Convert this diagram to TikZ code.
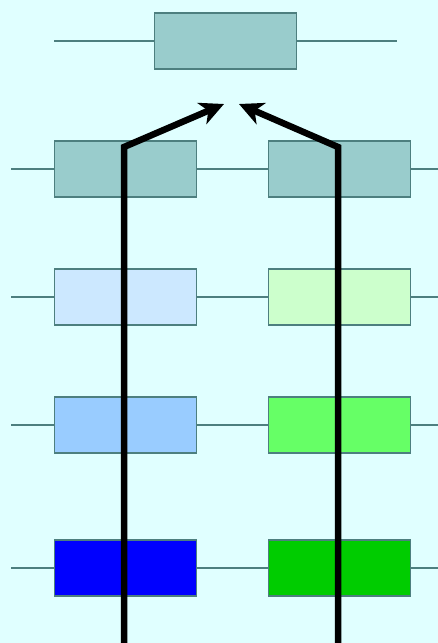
\documentclass[tikz,border=0pt]{standalone}
\usepackage{xcolor}
\usetikzlibrary{positioning, arrows.meta}

\definecolor{bg}{HTML}{E0FFFF}
\definecolor{edge}{HTML}{4D7F7F}
\definecolor{teal1}{HTML}{99CCCC}
\definecolor{paleblue}{HTML}{CCE8FF}
\definecolor{palegreen}{HTML}{CCFFCC}
\definecolor{midblue}{HTML}{99CCFF}
\definecolor{midgreen}{HTML}{66FF66}
\definecolor{deepblue}{HTML}{0000FF}
\definecolor{deepgreen}{HTML}{00CC00}

\begin{document}
\begin{tikzpicture}[x=1pt, y=-1pt,
  box/.style={draw=edge, line width=1.3pt, minimum width=142pt, minimum height=56pt, inner sep=0pt},
  wire/.style={draw=edge, line width=1.3pt},
  pull/.style={line width=6.5pt, -{Stealth[length=24pt, width=23pt, inset=7pt]}}]

\fill[bg] (0, 0) rectangle (438, 643);
\useasboundingbox (0, 0) rectangle (438, 643);

% top element
\node[box, fill=teal1] (top) at (225.5, 41) {};
\coordinate (topl) at (54, 41);
\coordinate (topr) at (397, 41);
\draw[wire] (topl) -- (top);
\draw[wire] (top) -- (topr);

% the two chains, row by row
\foreach \y/\n/\cl/\cr in {169/a/teal1/teal1, 297/b/paleblue/palegreen,
                            425/c/midblue/midgreen, 568/d/deepblue/deepgreen}{
  \node[box, fill=\cl] (l\n) at (125.5, \y) {};
  \node[box, fill=\cr] (r\n) at (339.5, \y) {};
  \coordinate (in\n) at (11, \y);
  \coordinate (out\n) at (438, \y);
  \draw[wire] (in\n) -- (l\n);
  \draw[wire] (l\n) -- (r\n);
  \draw[wire] (r\n) -- (out\n);
}

% thick arrows up to the top
\coordinate (lfoot) at (124, 643);
\coordinate (lbend) at (124, 147);
\coordinate (ltip) at (224, 104);
\coordinate (rfoot) at (338, 643);
\coordinate (rbend) at (338, 147);
\coordinate (rtip) at (239, 104);

\draw[pull] (lfoot) -- (lbend) -- (ltip);
\draw[pull] (rfoot) -- (rbend) -- (rtip);
\end{tikzpicture}
\end{document}
